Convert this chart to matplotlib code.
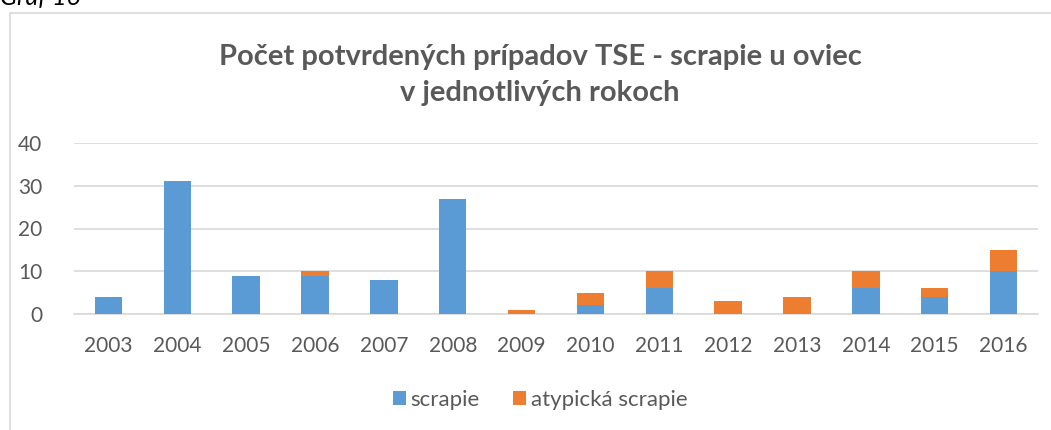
import numpy as np
import matplotlib.pyplot as plt
from matplotlib.patches import Rectangle

plt.rcParams['font.family'] = ['Lato', 'DejaVu Sans']

years = ['2003', '2004', '2005', '2006', '2007', '2008', '2009',
         '2010', '2011', '2012', '2013', '2014', '2015', '2016']
scrapie = [4, 31, 9, 9, 8, 27, 0, 2, 6, 0, 0, 6, 4, 10]
atypicka = [0, 0, 0, 1, 0, 0, 1, 3, 4, 3, 4, 4, 2, 5]

blue = '#5B9BD5'
orange = '#ED7D31'
txt = '#595959'

W, H = 1051, 430
fig = plt.figure(figsize=(W / 100, H / 100), dpi=100)

# chart frame (cut off on the right and bottom)
fig.patches.append(Rectangle((10 / W, -0.05), 1.2, 1 - 13 / H + 0.05,
                             transform=fig.transFigure, fill=False,
                             edgecolor='#d9d9d9', linewidth=1.2))
fig.text(0.0, 1 - 5 / H, 'Graf 16', style='italic', fontsize=18,
         color='black', va='baseline', ha='left')

ax = fig.add_axes([74 / W, 1 - 314 / H, 964 / W, 171 / H])
x = np.arange(len(years))
ax.bar(x, scrapie, width=0.4, color=blue, label='scrapie', zorder=3)
ax.bar(x, atypicka, width=0.4, bottom=scrapie, color=orange,
       label='atypická scrapie', zorder=3)

ax.set_xlim(-0.5, len(years) - 0.5)
ax.set_ylim(0, 40)
ax.set_yticks([0, 10, 20, 30, 40])
ax.set_xticks(x)
ax.set_xticklabels(years)
ax.yaxis.grid(True, color='#d9d9d9', linewidth=1.2, zorder=0)
for s in ['top', 'right', 'left']:
    ax.spines[s].set_visible(False)
ax.spines['bottom'].set_color('#d9d9d9')
ax.spines['bottom'].set_linewidth(1.2)
ax.tick_params(length=0, labelsize=15, colors=txt)
ax.tick_params(axis='x', pad=16)
ax.tick_params(axis='y', pad=23)

fig.text(540 / W, 1 - 57 / H, 'Počet potvrdených prípadov TSE - scrapie u oviec',
         ha='center', va='center', fontsize=21, fontweight='bold', color=txt)
fig.text(540 / W, 1 - 93 / H, 'v jednotlivých rokoch',
         ha='center', va='center', fontsize=21, fontweight='bold', color=txt)

fig.legend(loc='center', bbox_to_anchor=(540 / W, 1 - 400 / H), ncol=2,
           frameon=False, fontsize=16, labelcolor=txt, handlelength=0.6,
           handleheight=0.6, handletextpad=0.2, columnspacing=1.5)

fig.savefig('out.png', dpi=100)
